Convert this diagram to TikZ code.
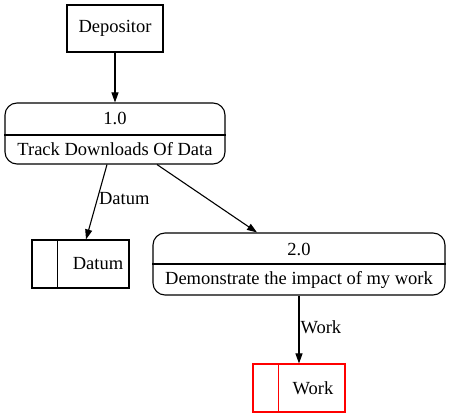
\documentclass[tikz,border=0pt]{standalone}
\usepackage{fontspec}
\setmainfont{Liberation Serif}
\usetikzlibrary{arrows.meta,calc}
\begin{document}
\begin{tikzpicture}[x=1pt,y=-1pt,
  every node/.style={font=\fontsize{18.5}{20}\selectfont, inner sep=0pt},
  box/.style={draw, line width=1.1pt},
  proc/.style={draw, line width=1.1pt, rounded corners=12pt},
  store/.style={draw, line width=1.1pt},
  redstore/.style={draw=red, color=red, line width=1.1pt},
  txt/.style={text=black},
  flow/.style={line width=1.1pt, -{Triangle[length=10pt,width=7pt]}},
  lbl/.style={anchor=west}]
\useasboundingbox (0,0) rectangle (450,419);
\fill[white] (0,0) rectangle (450,419);
% external entity
\node[box, minimum width=96pt, minimum height=47pt] (dep) at (115,28.5) {Depositor};
% process 1.0
\node[proc, minimum width=220pt, minimum height=61pt] (p1) at (115,133.5) {};
\draw[line width=1.1pt] ($(p1.west)+(0,1.5)$) coordinate (p1l) -- ($(p1.east)+(0,1.5)$) coordinate (p1r);
\node[txt] (p1n) at (115,118.5) {1.0};
\node[txt] (p1t) at (115,149.5) {Track Downloads Of Data};
% data store Datum
\node[store, minimum width=97pt, minimum height=48pt] (ds) at (80.5,264) {};
\draw[line width=1.1pt] ($(ds.north west)+(26,0)$) coordinate (dsa) -- ($(ds.south west)+(26,0)$) coordinate (dsb);
\node[txt] (dst) at (98,264) {Datum};
% process 2.0
\node[proc, minimum width=292pt, minimum height=62pt] (p2) at (299,264) {};
\draw[line width=1.1pt] (p2.west) -- (p2.east);
\node[txt] (p2n) at (299,249) {2.0};
\node[txt] (p2t) at (299,279.5) {Demonstrate the impact of my work};
% data store Work
\node[redstore, minimum width=92pt, minimum height=48pt] (ws) at (299,388) {};
\draw[line width=1.1pt, red] ($(ws.north west)+(26,0)$) coordinate (wsa) -- ($(ws.south west)+(26,0)$) coordinate (wsb);
\node[txt] (wst) at (313,388) {Work};
% flows
\draw[flow] (dep.south) -- (p1.north);
\draw[flow] ($(p1.south)+(-8,0)$) -- node[lbl, pos=0.45, xshift=1pt] (l1) {Datum} ($(ds.north)+(5.5,0)$);
\draw[flow] ($(p1.south)+(42,0)$) -- ($(p2.north)+(-42,0)$);
\draw[flow] (p2.south) -- node[lbl, pos=0.47, xshift=1pt] (l2) {Work} (ws.north);
\end{tikzpicture}
\end{document}
